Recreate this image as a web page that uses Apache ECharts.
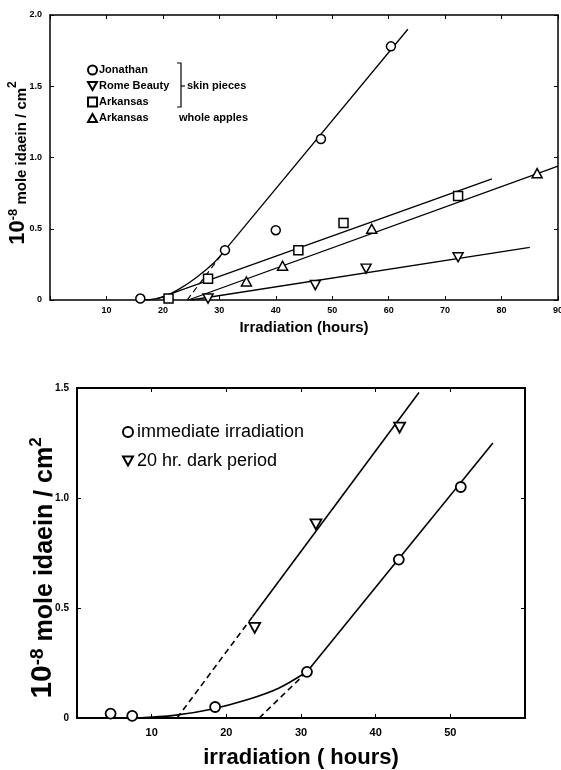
<!DOCTYPE html>
<html><head><meta charset="utf-8">
<script src="https://cdn.jsdelivr.net/npm/echarts@6/dist/echarts.min.js"></script>
<style>html,body{margin:0;padding:0;background:#fff}#c{width:561px;height:770px}</style>
</head><body><div id="c"></div>
<script>
// ---------- Top panel data ----------
const topXTicks = [10, 20, 30, 40, 50, 60, 70, 80, 90];
const topYTicks = ['0', '0.5', '1.0', '1.5', '2.0'];
const jonathanPts = [[16, 0.01], [31, 0.35], [40, 0.49], [48, 1.13], [60.4, 1.78]];
const jonathanCurve = [[17, 0], [20, 0.02], [23, 0.08], [26, 0.16], [29, 0.26], [31, 0.35]];
const jonathanLine = [[31, 0.35], [63.4, 1.9]];
const jonathanDash = [[24.3, 0], [31, 0.35]];
const romePts = [[28, 0.01], [47, 0.105], [56, 0.22], [72.3, 0.30]];
const romeLine = [[25, 0], [85, 0.37]];
const arkSkinPts = [[21, 0.01], [28, 0.15], [44, 0.35], [52, 0.54], [72.3, 0.73]];
const arkSkinLine = [[19, 0.01], [78.3, 0.85]];
const arkWholePts = [[34.8, 0.13], [41.2, 0.24], [57, 0.50], [86.3, 0.89]];
const arkWholeLine = [[24.5, 0], [90, 0.94]];

// ---------- Bottom panel data ----------
const botXTicks = [10, 20, 30, 40, 50];
const botYTicks = ['0', '0.5', '1.0', '1.5'];
const immediatePts = [[4.5, 0.02], [7.4, 0.01], [18.5, 0.05], [30.8, 0.21], [43.1, 0.72], [51.4, 1.05]];
const immediateCurve = [[8, 0], [13, 0.012], [18, 0.04], [23, 0.085], [27, 0.135], [30.8, 0.21]];
const immediateLine = [[30.8, 0.21], [55.7, 1.25]];
const immediateDash = [[24.4, 0], [30.8, 0.21]];
const darkPts = [[23.8, 0.41], [32, 0.88], [43.2, 1.32]];
const darkLine = [[23.5, 0.46], [45.8, 1.48]];
const darkDash = [[13.4, 0], [23.5, 0.46]];

const FONT = 'Liberation Sans';
const DOWN = 'path://M0,0 L10,0 L5,9 Z';
const UP = 'path://M5,0 L10,9 L0,9 Z';

function xAx(grid, max, ticks, pos, show, lw, fs, name) {
  return {
    type: 'value', gridIndex: grid, min: 0, max: max, interval: 10, position: pos,
    axisLine: { show: true, onZero: false, lineStyle: { color: '#000', width: lw } },
    axisTick: { show: true, inside: true, length: 4, lineStyle: { color: '#000', width: 1 } },
    axisLabel: { show: show, margin: fs > 9 ? 9 : 6, color: '#000', fontFamily: FONT, fontWeight: 'bold', fontSize: fs,
      formatter: v => ticks.indexOf(v) >= 0 ? String(v) : '' },
    splitLine: { show: false },
    name: name || '', nameLocation: 'middle'
  };
}
function yAx(grid, max, labels, pos, show, lw, fs) {
  return {
    type: 'value', gridIndex: grid, min: 0, max: max, interval: 0.5, position: pos,
    axisLine: { show: true, onZero: false, lineStyle: { color: '#000', width: lw } },
    axisTick: { show: true, inside: true, length: 4, lineStyle: { color: '#000', width: 1 } },
    axisLabel: { show: show, margin: 8, color: '#000', fontFamily: FONT, fontWeight: 'bold', fontSize: fs,
      formatter: v => labels[Math.round(v / 0.5)] },
    splitLine: { show: false }
  };
}
function pts(name, data, sym, size, bw, xi, yi) {
  return { type: 'scatter', name: name, data: data, xAxisIndex: xi, yAxisIndex: yi, symbol: sym, symbolSize: size,
    itemStyle: { color: '#fff', borderColor: '#000', borderWidth: bw, opacity: 1 }, z: 5, silent: true };
}
function ln(data, xi, yi, w, dashed, smooth) {
  return { type: 'line', data: data, xAxisIndex: xi, yAxisIndex: yi, showSymbol: false, symbol: 'none',
    smooth: smooth ? 0.3 : false,
    lineStyle: { color: '#000', width: w, type: dashed ? [6, 4] : 'solid' }, z: 3, silent: true };
}

const chart = echarts.init(document.getElementById('c'), null, { renderer: 'canvas' });
const xTop = xAx(0, 90, topXTicks, 'bottom', true, 1.5, 9, 'Irradiation (hours)');
xTop.nameGap = 20;
xTop.nameTextStyle = { fontFamily: FONT, fontSize: 15, color: '#000', fontWeight: 'bold' };
const xBot = xAx(1, 60, botXTicks, 'bottom', true, 2, 11, 'irradiation ( hours)');
xBot.nameGap = 29;
xBot.nameTextStyle = { fontFamily: FONT, fontSize: 22, color: '#000', fontWeight: 'bold' };

const titleRich = (b, s, t, s2) => ({
  base: { fontSize: b, fontWeight: 'bold', fontFamily: FONT, verticalAlign: 'bottom', fill: '#000' },
  sup: { fontSize: s, fontWeight: 'bold', fontFamily: FONT, verticalAlign: 'top', fill: '#000' },
  txt: { fontSize: t, fontWeight: 'bold', fontFamily: FONT, verticalAlign: 'bottom', fill: '#000' },
  sup2: { fontSize: s2, fontWeight: 'bold', fontFamily: FONT, verticalAlign: 'top', fill: '#000' }
});

chart.setOption({
  animation: false,
  backgroundColor: '#fff',
  grid: [
    { left: 50, top: 15, width: 508, height: 285, outerBoundsMode: 'none', containLabel: false },
    { left: 77, top: 388, width: 448, height: 330, outerBoundsMode: 'none', containLabel: false }
  ],
  xAxis: [
    xTop,
    xAx(0, 90, topXTicks, 'top', false, 1.5, 9),
    xBot,
    xAx(1, 60, botXTicks, 'top', false, 2, 11)
  ],
  yAxis: [
    yAx(0, 2, topYTicks, 'left', true, 1.5, 9),
    yAx(0, 2, topYTicks, 'right', false, 1.5, 9),
    yAx(1, 1.5, botYTicks, 'left', true, 2, 10),
    yAx(1, 1.5, botYTicks, 'right', false, 2, 10)
  ],
  legend: [
    { data: ['Jonathan', 'Rome Beauty', 'Arkansas'], orient: 'vertical', left: 87, top: 64, padding: 0,
      itemWidth: 9, itemHeight: 9, itemGap: 4, selectedMode: false,
      textStyle: { fontFamily: FONT, fontSize: 11, fontWeight: 'bold', color: '#000', lineHeight: 12, padding: [0, 0, 0, -3] } },
    { data: ['Arkansas whole apples'], orient: 'vertical', left: 87, top: 112, padding: 0,
      itemWidth: 9, itemHeight: 9, selectedMode: false,
      formatter: () => '{a|Arkansas}{b|whole apples}',
      textStyle: { fontFamily: FONT, fontSize: 11, fontWeight: 'bold', color: '#000', lineHeight: 12, padding: [0, 0, 0, -3],
        rich: { a: { width: 80, fontFamily: FONT, fontSize: 11, fontWeight: 'bold' }, b: { fontFamily: FONT, fontSize: 11, fontWeight: 'bold' } } } },
    { data: ['immediate irradiation', '20 hr. dark period'], orient: 'vertical', left: 122, top: 422, padding: 0,
      itemWidth: 10, itemHeight: 10, itemGap: 9, selectedMode: false,
      textStyle: { fontFamily: FONT, fontSize: 18, color: '#000', lineHeight: 20, padding: [0, 0, 0, -1] } }
  ],
  graphic: [
    { type: 'polyline', shape: { points: [[177, 63], [181, 63], [181, 107], [177, 107]] }, style: { stroke: '#000', lineWidth: 1.2, fill: null } },
    { type: 'line', shape: { x1: 181, y1: 86, x2: 185, y2: 86 }, style: { stroke: '#000', lineWidth: 1.2 } },
    { type: 'text', left: 187, top: 80, style: { text: 'skin pieces', font: 'bold 11px "Liberation Sans"', fill: '#000' } },
    { type: 'text', x: 18, y: 163, rotation: Math.PI / 2,
      style: { text: '{base|10}{sup|-8}{txt| mole idaein / cm}{sup2|2}', rich: titleRich(22, 13, 15, 12),
        align: 'center', verticalAlign: 'middle', fill: '#000' } },
    { type: 'text', x: 43, y: 568, rotation: Math.PI / 2,
      style: { text: '{base|10}{sup|-8}{txt| mole idaein / cm}{sup2|2}', rich: titleRich(30, 19, 25, 17),
        align: 'center', verticalAlign: 'middle', fill: '#000' } }
  ],
  series: [
    ln(jonathanCurve, 0, 0, 1.3, false, true),
    ln(jonathanLine, 0, 0, 1.3, false),
    ln(jonathanDash, 0, 0, 1.2, true),
    ln(romeLine, 0, 0, 1.3, false),
    ln(arkSkinLine, 0, 0, 1.3, false),
    ln(arkWholeLine, 0, 0, 1.3, false),
    pts('Jonathan', jonathanPts, 'circle', 9, 1.5, 0, 0),
    pts('Rome Beauty', romePts, DOWN, [10, 9], 1.5, 0, 0),
    pts('Arkansas', arkSkinPts, 'rect', 9, 1.5, 0, 0),
    pts('Arkansas whole apples', arkWholePts, UP, [10, 9], 1.5, 0, 0),
    ln(immediateCurve, 2, 2, 1.6, false, true),
    ln(immediateLine, 2, 2, 1.6, false),
    ln(immediateDash, 2, 2, 1.6, true),
    ln(darkLine, 2, 2, 1.6, false),
    ln(darkDash, 2, 2, 1.6, true),
    pts('immediate irradiation', immediatePts, 'circle', 10, 1.8, 2, 2),
    pts('20 hr. dark period', darkPts, DOWN, [11, 10], 1.8, 2, 2)
  ]
});
</script></body></html>
